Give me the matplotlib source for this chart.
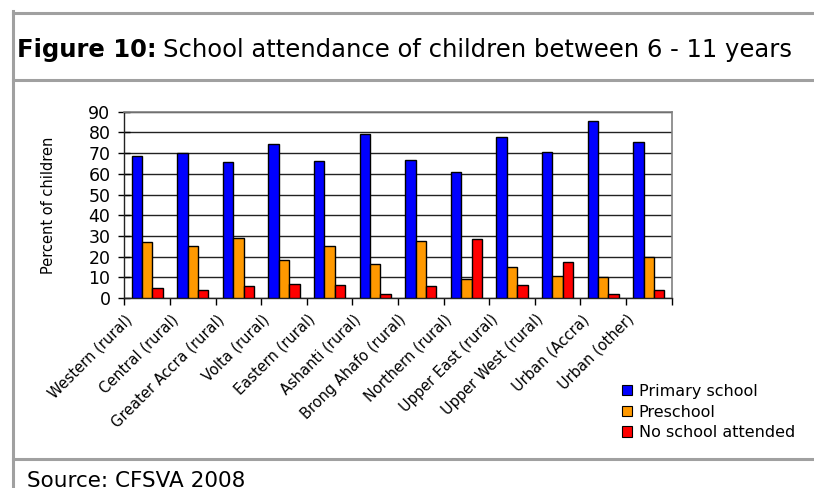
import numpy as np
import matplotlib.pyplot as plt
import matplotlib.transforms as mtransforms
from matplotlib.lines import Line2D
from matplotlib.patches import Patch

regions = ['Western (rural)', 'Central (rural)', 'Greater Accra (rural)',
           'Volta (rural)', 'Eastern (rural)', 'Ashanti (rural)',
           'Brong Ahafo (rural)', 'Northern (rural)', 'Upper East (rural)',
           'Upper West (rural)', 'Urban (Accra)', 'Urban (other)']
primary = [68.6, 69.9, 65.6, 74.3, 66.2, 79.4, 66.7, 61.1, 77.9, 70.6, 85.5, 75.4]
preschool = [27.0, 25.2, 28.9, 18.2, 25.2, 16.4, 27.6, 9.3, 15.1, 10.8, 10.1, 19.6]
no_school = [5.0, 3.9, 5.6, 6.9, 6.3, 2.1, 5.6, 28.4, 6.3, 17.5, 1.9, 3.9]

series_names = ['Primary school', 'Preschool', 'No school attended']
colors = ['#0000FF', '#FF9900', '#FF0000']

W, H = 814, 488
fig = plt.figure(figsize=(W / 100, H / 100), dpi=100)

def fx(px):
    return px / W

def fy(py):
    return 1 - py / H

# grey frame around the figure
frame = '#A0A0A0'
lw = 2.2
fig.add_artist(Line2D([fx(13), 1], [fy(12.5), fy(12.5)], color=frame, lw=lw))
fig.add_artist(Line2D([fx(13), 1], [fy(80), fy(80)], color=frame, lw=lw))
fig.add_artist(Line2D([fx(13), 1], [fy(459), fy(459)], color=frame, lw=lw))
fig.add_artist(Line2D([fx(13), fx(13)], [fy(11), 0], color=frame, lw=lw))

# title: bold prefix then plain text
t1 = fig.text(fx(17), fy(57), 'Figure 10:', fontsize=17.5, fontweight='bold',
              va='baseline', ha='left')
fig.canvas.draw()
bb = t1.get_window_extent()
fig.text(bb.x1 / W + fx(6), fy(57), 'School attendance of children between 6 - 11 years',
         fontsize=17.5, va='baseline', ha='left')

fig.text(fx(27), fy(487), 'Source: CFSVA 2008', fontsize=15.5, va='baseline', ha='left')

ax = fig.add_axes([fx(124.3), fy(298), fx(671.7) - fx(124.3), fy(111.7) - fy(298)])

n = len(regions)
x = np.arange(n)
bw = 0.228
for i, vals in enumerate([primary, preschool, no_school]):
    ax.bar(x + (i - 1) * bw, vals, width=bw, color=colors[i],
           edgecolor='black', linewidth=1.0, zorder=3)

ax.set_xlim(-0.5, n - 0.5)
ax.set_ylim(0, 90)
ax.set_yticks(np.arange(0, 91, 10))
ax.yaxis.grid(True, color='#222222', linewidth=1.0, zorder=0)
ax.set_axisbelow(True)

ax.set_xticks(np.arange(-0.5, n, 1))
ax.set_xticklabels([])
ax.tick_params(axis='x', direction='out', length=5, width=1)
ax.tick_params(axis='y', direction='inout', length=8, width=1, labelsize=12.5, pad=6)

# category names, slanted and ending just left of each group
shift = mtransforms.ScaledTranslation(-17 / 100, -19 / 100, fig.dpi_scale_trans)
for xi, name in zip(x, regions):
    ax.text(xi, 0, name, transform=ax.get_xaxis_transform() + shift,
            rotation=45, rotation_mode='anchor', ha='right', va='center',
            fontsize=10.5)

for side in ['top', 'right']:
    ax.spines[side].set_color('#808080')
    ax.spines[side].set_linewidth(1.2)
for side in ['left', 'bottom']:
    ax.spines[side].set_color('#222222')
    ax.spines[side].set_linewidth(1.0)

ax.set_ylabel('Percent of children', fontsize=10.5, labelpad=23)

handles = [Patch(facecolor=c, edgecolor='black', linewidth=0.8) for c in colors]
fig.legend(handles, series_names, loc='upper left',
           bbox_to_anchor=(fx(614), fy(376)), frameon=False, fontsize=11.5,
           handlelength=0.6, handleheight=0.6, handletextpad=0.45,
           labelspacing=0.35, borderpad=0)

fig.savefig('out.png', dpi=100)
